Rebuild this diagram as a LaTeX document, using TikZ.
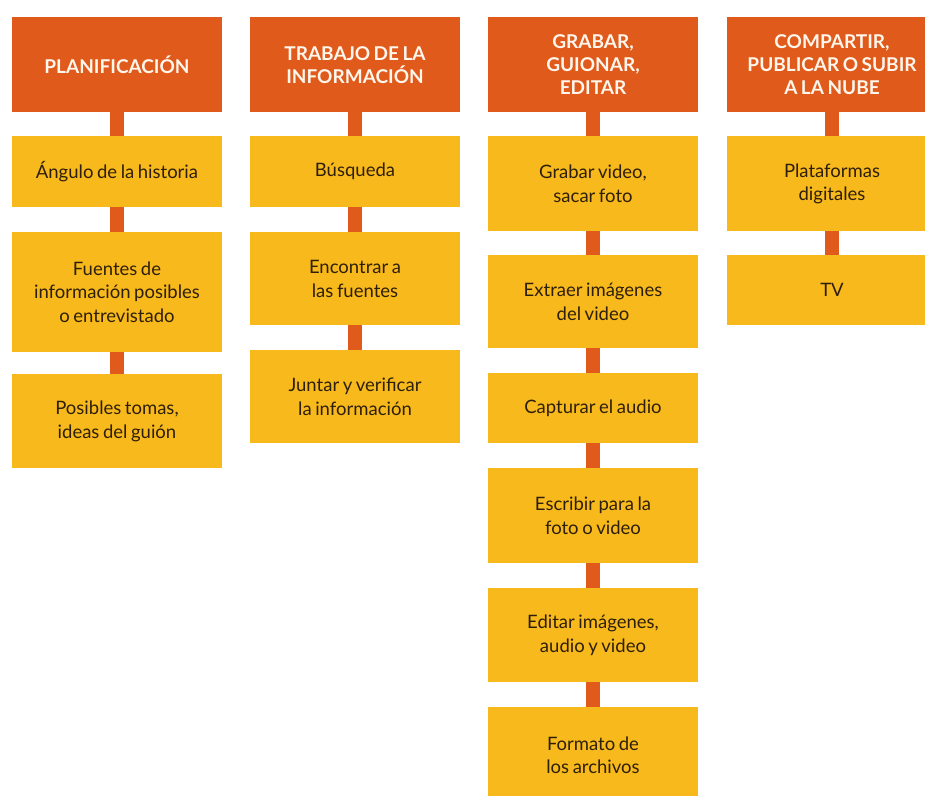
\documentclass[tikz,border=0pt]{standalone}
\usepackage{fontspec}
\setmainfont{Lato}[WordSpace=0.75]
\definecolor{hdrorange}{HTML}{E05A1B}
\definecolor{itmyellow}{HTML}{F8B91C}
\definecolor{itmtext}{HTML}{2E1F0A}
\definecolor{hdrtext}{HTML}{FFF6EC}
\begin{document}
\begin{tikzpicture}[x=1pt,y=-1pt,
  box/.style={rectangle, minimum width=210pt, inner sep=0pt, align=center, anchor=north},
  hdr/.style={box, fill=hdrorange, text=hdrtext, font=\fontsize{19}{23}\selectfont\bfseries, minimum height=95pt},
  itm/.style={box, fill=itmyellow, text=itmtext, font=\fontsize{18.5}{23.5}\selectfont},
  conn/.style={draw=hdrorange, line width=14pt}]
\clip (0,0) rectangle (925,795);
\fill[white] (0,0) rectangle (925,795);
% Column 1
\node[hdr] (c1h) at (117,17) {PLANIFICACIÓN};
\node[itm, minimum height=71pt] (c1a) at (117,136) {Ángulo de la historia};
\node[itm, minimum height=120pt] (c1b) at (117,232) {Fuentes de\\información posibles\\o entrevistado};
\node[itm, minimum height=94pt] (c1c) at (117,374) {Posibles tomas,\\ideas del guión};
% Column 2
\node[hdr] (c2h) at (355,17) {TRABAJO DE LA\\INFORMACIÓN};
\node[itm, minimum height=71pt] (c2a) at (355,136) {Búsqueda};
\node[itm, minimum height=93pt] (c2b) at (355,232) {Encontrar a\\las fuentes};
\node[itm, minimum height=93pt] (c2c) at (355,350) {Juntar y verificar\\la información};
% Column 3
\node[hdr] (c3h) at (593,17) {GRABAR,\\GUIONAR,\\EDITAR};
\node[itm, minimum height=95pt] (c3a) at (593,136) {Grabar video,\\sacar foto};
\node[itm, minimum height=93pt] (c3b) at (593,255) {Extraer imágenes\\del video};
\node[itm, minimum height=70pt] (c3c) at (593,373) {Capturar el audio};
\node[itm, minimum height=95pt] (c3d) at (593,468) {Escribir para la\\foto o video};
\node[itm, minimum height=94pt] (c3e) at (593,588) {Editar imágenes,\\audio y video};
\node[itm, minimum height=96pt] (c3f) at (593,707) {Formato de\\los archivos};
% Column 4
\node[hdr] (c4h) at (832,17) {COMPARTIR,\\PUBLICAR O SUBIR\\A LA NUBE};
\node[itm, minimum height=95pt] (c4a) at (832,136) {Plataformas\\digitales};
\node[itm, minimum height=70pt] (c4b) at (832,255) {TV};
% Connectors
\draw[conn] (c1h.south) -- (c1a.north);
\draw[conn] (c1a.south) -- (c1b.north);
\draw[conn] (c1b.south) -- (c1c.north);
\draw[conn] (c2h.south) -- (c2a.north);
\draw[conn] (c2a.south) -- (c2b.north);
\draw[conn] (c2b.south) -- (c2c.north);
\draw[conn] (c3h.south) -- (c3a.north);
\draw[conn] (c3a.south) -- (c3b.north);
\draw[conn] (c3b.south) -- (c3c.north);
\draw[conn] (c3c.south) -- (c3d.north);
\draw[conn] (c3d.south) -- (c3e.north);
\draw[conn] (c3e.south) -- (c3f.north);
\draw[conn] (c4h.south) -- (c4a.north);
\draw[conn] (c4a.south) -- (c4b.north);
\end{tikzpicture}
\end{document}
